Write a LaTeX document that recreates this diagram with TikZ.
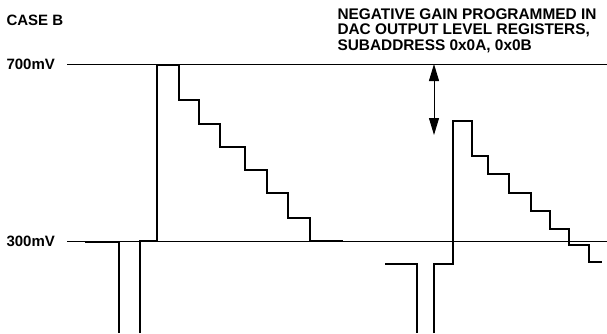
\documentclass[tikz,border=0pt]{standalone}
\usepackage{fontspec}
\setmainfont{Liberation Sans}
\usetikzlibrary{arrows.meta}
\begin{document}
\begin{tikzpicture}[x=1pt,y=-1pt,line width=1pt,
  wave/.style={line width=2.2pt},
  lbl/.style={inner sep=0pt,font=\fontsize{15}{16}\selectfont\bfseries},
  notelbl/.style={inner sep=0pt,font=\fontsize{15.4}{15.4}\selectfont\bfseries},
  gainarrow/.style={line width=1pt,{Triangle[length=17pt,width=10pt]}-{Triangle[length=17pt,width=10pt]}}]
  \useasboundingbox (0,0) rectangle (607,333);
  \node[lbl,anchor=west] (caseb) at (6,20) {CASE B};
  \node[lbl,anchor=west] (hi) at (6,64) {700mV};
  \node[lbl,anchor=west] (lo) at (6,241) {300mV};
  \node[notelbl,anchor=north west,align=left] (note) at (337,8.3)
    {NEGATIVE GAIN PROGRAMMED IN\\DAC OUTPUT LEVEL REGISTERS,\\SUBADDRESS 0x0A, 0x0B};
  \draw (67,64) -- (607,64);
  \draw (67,241) -- (607,241);
  \draw[wave] (85,242) -- (119,242) -- (119,333);
  \draw[wave] (140,333) -- (140,241) -- (157,241) -- (157,65) -- (179,65)
    -- (179,100) -- (199,100) -- (199,124) -- (220,124) -- (220,147)
    -- (245,147) -- (245,170) -- (267,170) -- (267,193) -- (288,193)
    -- (288,218) -- (310,218) -- (310,241) -- (343,241);
  \draw[wave] (385,264) -- (417,264) -- (417,333);
  \draw[wave] (434,333) -- (434,264) -- (453,264) -- (453,121) -- (472,121)
    -- (472,156) -- (488,156) -- (488,174) -- (509,174) -- (509,193)
    -- (531,193) -- (531,211) -- (550,211) -- (550,229) -- (569,229)
    -- (569,245) -- (589,245) -- (589,262) -- (602,262);
  \coordinate (gaintop) at (434,64);
  \coordinate (gainbot) at (434,135);
  \draw[gainarrow] (gaintop) -- (gainbot);
\end{tikzpicture}
\end{document}
